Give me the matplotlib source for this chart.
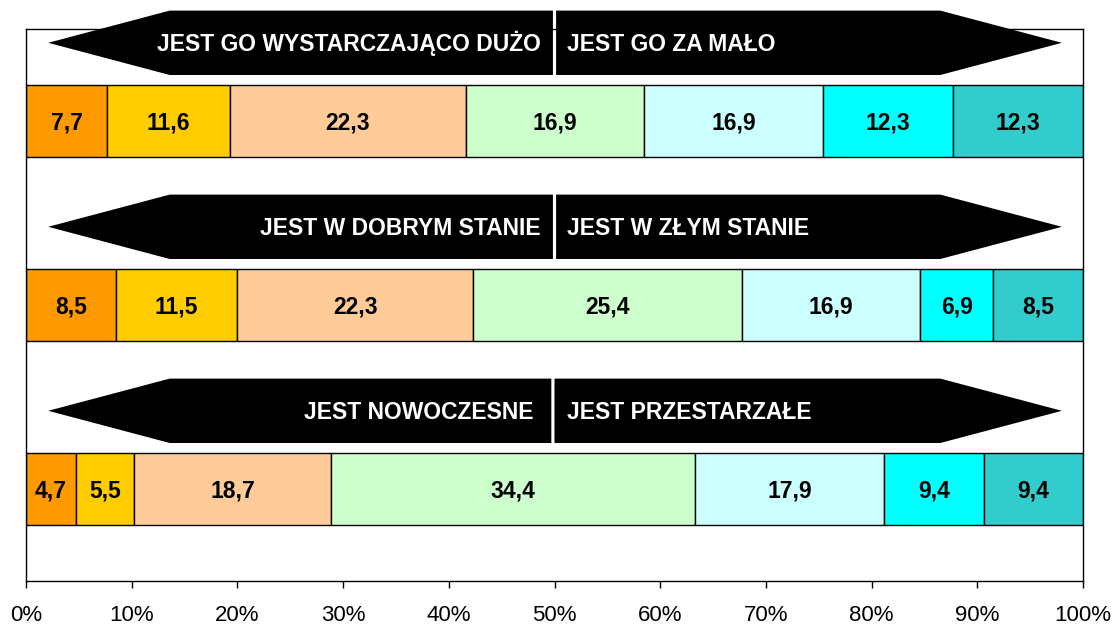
import matplotlib
matplotlib.use("Agg")
import matplotlib.pyplot as plt
from matplotlib.patches import Polygon
import numpy as np

plt.rcParams['font.family'] = ['Liberation Sans', 'DejaVu Sans']

# Data (top to bottom rows)
row_left_labels = ["JEST GO WYSTARCZAJĄCO DUŻO", "JEST W DOBRYM STANIE", "JEST NOWOCZESNE"]
row_right_labels = ["JEST GO ZA MAŁO", "JEST W ZŁYM STANIE", "JEST PRZESTARZAŁE"]
values = [
    [7.7, 11.6, 22.3, 16.9, 16.9, 12.3, 12.3],
    [8.5, 11.5, 22.3, 25.4, 16.9, 6.9, 8.5],
    [4.7, 5.5, 18.7, 34.4, 17.9, 9.4, 9.4],
]
labels = [
    ["7,7", "11,6", "22,3", "16,9", "16,9", "12,3", "12,3"],
    ["8,5", "11,5", "22,3", "25,4", "16,9", "6,9", "8,5"],
    ["4,7", "5,5", "18,7", "34,4", "17,9", "9,4", "9,4"],
]
colors = ["#FF9900", "#FFCC00", "#FFCC99", "#CCFFCC", "#CCFFFF", "#00FFFF", "#33CCCC"]
xticks = [0, 10, 20, 30, 40, 50, 60, 70, 80, 90, 100]
xticklabels = ["0%", "10%", "20%", "30%", "40%", "50%", "60%", "70%", "80%", "90%", "100%"]

fig = plt.figure(figsize=(11.13, 6.25), dpi=100)
ax = fig.add_axes([26/1113, 44/625, (1083-26)/1113, (581-29)/625])

bar_h = 0.39
text_off = 0.045  # baseline offset so caps are vertically centred
for i, row in enumerate(values):
    tot = sum(row)
    left = 0.0
    for j, v in enumerate(row):
        w = v / tot * 100
        ax.barh(i, w, left=left, height=bar_h, color=colors[j],
                edgecolor="black", linewidth=1.0, zorder=2)
        ax.text(left + w / 2, i + text_off, labels[i][j], ha="center", va="baseline",
                fontsize=16.5, fontweight="bold", color="black", zorder=3)
        left += w

# Arrows above each bar
arrow_off = -0.425
arrow_h = 0.35
g = 0.15
split = [50.0, 50.0, 49.85]
left_text_x = [48.7, 48.7, 48.0]
for i in range(len(values)):
    yc = i + arrow_off
    yt = yc - arrow_h / 2
    yb = yc + arrow_h / 2
    s = split[i]
    lp = Polygon([(s - g, yt), (13.6, yt), (2.1, yc), (13.6, yb), (s - g, yb)],
                 closed=True, facecolor="black", edgecolor="none", clip_on=False, zorder=4)
    rp = Polygon([(s + g, yt), (86.5, yt), (98.0, yc), (86.5, yb), (s + g, yb)],
                 closed=True, facecolor="black", edgecolor="none", clip_on=False, zorder=4)
    ax.add_patch(lp)
    ax.add_patch(rp)
    ax.text(left_text_x[i], yc + text_off, row_left_labels[i], ha="right", va="baseline",
            color="white", fontsize=16.5, fontweight="bold", zorder=5, clip_on=False)
    ax.text(51.2, yc + text_off, row_right_labels[i], ha="left", va="baseline",
            color="white", fontsize=16.5, fontweight="bold", zorder=5, clip_on=False)

ax.set_xlim(0, 100)
ax.set_ylim(2.5, -0.5)
ax.set_yticks([])
ax.set_xticks(xticks)
ax.set_xticklabels(xticklabels, fontsize=16)
ax.tick_params(axis="x", direction="out", length=5, width=1, pad=12)
for sp in ax.spines.values():
    sp.set_linewidth(1.0)
    sp.set_color("black")

fig.savefig("out.png", dpi=100)
